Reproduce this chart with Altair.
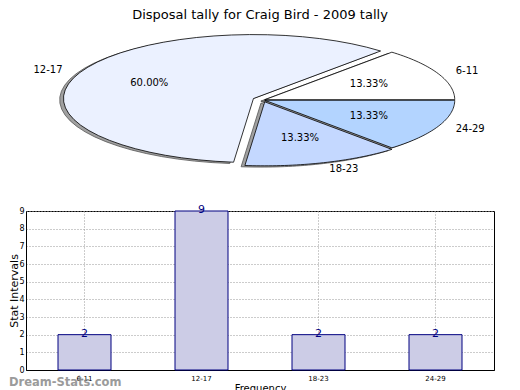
import altair as alt
import pandas as pd

labels = ["6-11", "12-17", "18-23", "24-29"]
counts = [2, 9, 2, 2]
pie_colors = ["#FFFFFF", "#EBF1FF", "#C4D8FF", "#B3D4FF"]
explode = [0.01, 0.055, 0.03, 0.01]
y_ticks = list(range(10))
title_text = "Disposal tally for Craig Bird - 2009 tally"
watermark = ["Dream-Stats.com"]

FONT = "DejaVu Sans"

pie_df = pd.DataFrame({"label": labels, "count": counts, "explode": explode,
                       "idx": list(range(len(labels)))})
bar_df = pd.DataFrame({"label": labels, "count": counts})
wm_df = pd.DataFrame({"t": watermark})

# ellipse geometry (pixels per unit radius)
RX_PX, RY_PX = 190, 64
PANEL_W, PANEL_H = 468, 172
CX, CY = 237, 78
xs = alt.Scale(domain=[-CX / RX_PX, (PANEL_W - CX) / RX_PX], nice=False, zero=False)
ys = alt.Scale(domain=[-(PANEL_H - CY) / RY_PX, CY / RY_PX], nice=False, zero=False)

base = (
    alt.Chart(pie_df)
    .transform_joinaggregate(total="sum(count)")
    .transform_window(cum="sum(count)", sort=[alt.SortField("idx")], frame=[None, 0])
    .transform_calculate(
        a0="2*PI*(datum.cum-datum.count)/datum.total",
        a1="2*PI*datum.cum/datum.total",
    )
    .transform_calculate(mid="(datum.a0+datum.a1)/2")
    .transform_calculate(
        ex="datum.explode*cos(datum.mid)",
        ey="datum.explode*sin(datum.mid)",
    )
)

poly = (
    base.transform_calculate(step="sequence(-1, 42)")
    .transform_flatten(["step"])
    .transform_calculate(
        tt="clamp(datum.step, 0, 40)/40",
        ang="datum.a0+(datum.a1-datum.a0)*datum.tt",
        onarc="(datum.step>=0 && datum.step<=40) ? 1 : 0",
        px="datum.ex+datum.onarc*cos(datum.ang)",
        py="datum.ey+datum.onarc*sin(datum.ang)",
        sx="datum.px-0.02",
        sy="datum.py-0.02",
    )
)

shadows = poly.mark_line(fill="#a0a0a0", stroke="#555555", strokeWidth=0.8).encode(
    x=alt.X("sx:Q", scale=xs, axis=None),
    y=alt.Y("sy:Q", scale=ys, axis=None),
    detail="label:N",
    order="step:Q",
)

slices = poly.mark_line(stroke="black", strokeWidth=0.8).encode(
    x=alt.X("px:Q", scale=xs, axis=None),
    y=alt.Y("py:Q", scale=ys, axis=None),
    detail="label:N",
    order="step:Q",
    fill=alt.Fill("label:N", scale=alt.Scale(domain=labels, range=pie_colors), legend=None),
)

lab = base.transform_calculate(
    lx="datum.ex+1.1*cos(datum.mid)",
    ly="datum.ey+1.1*sin(datum.mid)",
)
lab_r = lab.transform_filter("cos(datum.mid) >= 0").mark_text(
    align="left", baseline="middle", font=FONT, fontSize=10, color="black"
).encode(x=alt.X("lx:Q", scale=xs, axis=None), y=alt.Y("ly:Q", scale=ys, axis=None), text="label:N")
lab_l = lab.transform_filter("cos(datum.mid) < 0").mark_text(
    align="right", baseline="middle", font=FONT, fontSize=10, color="black"
).encode(x=alt.X("lx:Q", scale=xs, axis=None), y=alt.Y("ly:Q", scale=ys, axis=None), text="label:N")

pct = base.transform_calculate(
    qx="datum.ex+0.6*cos(datum.mid)",
    qy="datum.ey+0.6*sin(datum.mid)",
    pct="format(100*datum.count/datum.total, '.2f') + '%'",
).mark_text(align="center", baseline="middle", font=FONT, fontSize=10, color="black").encode(
    x=alt.X("qx:Q", scale=xs, axis=None), y=alt.Y("qy:Q", scale=ys, axis=None), text="pct:N"
)

pie = alt.layer(shadows, slices, lab_l, lab_r, pct).properties(
    width=PANEL_W, height=PANEL_H,
    view=alt.ViewBackground(stroke="transparent"),
    title=alt.TitleParams(title_text, font=FONT, fontSize=13, fontWeight="normal",
                          anchor="middle", offset=0, color="black"),
)

grid_kw = dict(grid=True, gridDash=[1, 2], gridColor="#999999", gridWidth=1)
xb = alt.X(
    "label:N", sort=labels,
    scale=alt.Scale(paddingInner=0, paddingOuter=0),
    axis=alt.Axis(title="Frequency", labelAngle=0, labelFont=FONT, labelFontSize=7,
                  titleFont=FONT, titleFontSize=10, titleFontWeight="normal", titleColor="black",
                  labelColor="black", ticks=False, labelPadding=4, titlePadding=2,
                  bandPosition=0.5, domainColor="black", **grid_kw),
)
yb = alt.Y(
    "count:Q",
    scale=alt.Scale(domain=[0, 9], nice=False),
    axis=alt.Axis(values=y_ticks, title="Stat Intervals", labelFont=FONT, labelFontSize=8,
                  titleFont=FONT, titleFontSize=11, titleFontWeight="normal", titleColor="black",
                  labelColor="black", ticks=False, labelPadding=2, titlePadding=-1,
                  labelOverlap=False, domainColor="black", **grid_kw),
)

bars = alt.Chart(bar_df).mark_bar(size=53, fill="#CCCCE6", stroke="#000080", strokeWidth=1).encode(
    x=xb, y=yb
)
vals = alt.Chart(bar_df).mark_text(
    baseline="alphabetic", dy=2, color="#000080", font=FONT, fontSize=11
).encode(x=xb, y=yb, text="count:Q")

wm = alt.Chart(wm_df).mark_text(
    align="left", baseline="alphabetic", font=FONT, fontSize=11.5, fontWeight="bold",
    color="#8a8a8a", opacity=0.85
).encode(x=alt.value(-17), y=alt.value(175), text="t:N")

barchart = alt.layer(bars, vals, wm).properties(
    width=468, height=159, view=alt.ViewBackground(stroke="black", strokeWidth=1)
)

chart = alt.vconcat(pie, barchart, spacing=8).properties(
    padding={"left": 0, "top": 0, "right": 0, "bottom": 0}
).configure_view(stroke="transparent")

chart.save("out.html", embed_options={"renderer": "svg", "actions": False})
